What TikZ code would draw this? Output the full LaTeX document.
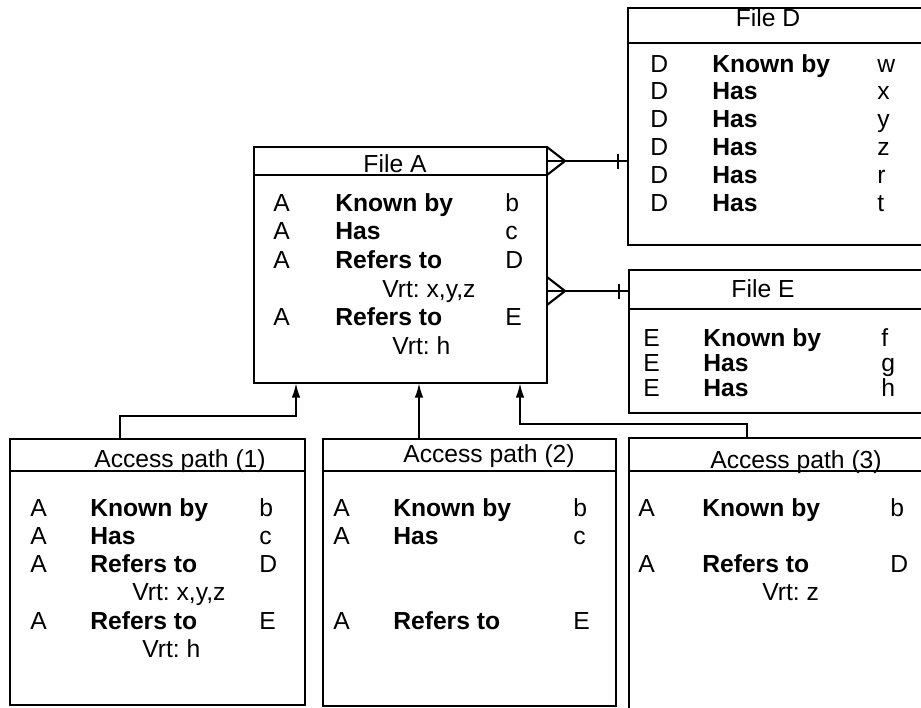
\documentclass[tikz,border=0pt]{standalone}
\usepackage{fontspec}
\setmainfont{Liberation Sans}
\usetikzlibrary{arrows.meta}
\setlength{\tabcolsep}{0pt}
\frenchspacing

\begin{document}
\begin{tikzpicture}[
        x=0.75pt, y=-0.75pt,
        every node/.style={font=\fontsize{18.5}{21.5}\selectfont},
        box/.style={rectangle, draw, line width=1.6pt, anchor=north west, inner sep=0pt, outer sep=0pt},
        title/.style={anchor=base, inner sep=0pt},
        rows/.style={anchor=base west, inner sep=0pt},
        link/.style={line width=1.6pt},
        arrow/.style={line width=1.6pt, -{Latex[length=11pt,width=6.5pt]}},
        crow/.pic={\draw[link] (0,-14) -- (18,0) -- (0,14);},
        bar/.pic={\draw[link] (-10,-7.5) -- (-10,7.5);}
    ]
    \useasboundingbox (0,0) rectangle (921,707);
    \clip (0,0) rectangle (921,707);

    % Files
    \node (fA) [box, minimum width=219.75pt, minimum height=177pt] at (254,147) {};
    \node (fD) [box, minimum width=234pt, minimum height=177.75pt] at (628,8) {};
    \node (fE) [box, minimum width=234pt, minimum height=107.25pt] at (629,270) {};

    % Access paths
    \node (ap1) [box, minimum width=221.25pt, minimum height=199.5pt] at (10,439) {};
    \node (ap2) [box, minimum width=219.75pt, minimum height=200.25pt] at (323,439) {};
    \node (ap3) [box, minimum width=234pt, minimum height=210pt] at (629,438) {};

    % Title bands
    \foreach \b/\h in {fA/21pt, fD/26.25pt, fE/29.25pt, ap1/24pt, ap2/24pt, ap3/24.75pt}
        \draw[link] ([yshift=-\h]\b.north west) -- ([yshift=-\h]\b.north east);

    \node (fAt) [title] at (395,172) {File A};
    \node (fDt) [title] at (768,26) {File D};
    \node (fEt) [title] at (763,297) {File E};
    \node (ap1t) [title] at (180,467) {Access path (1)};
    \node (ap2t) [title] at (489,462) {Access path (2)};
    \node (ap3t) [title] at (796,468) {Access path (3)};

    % Rows
    \node (fAb) [rows] at (273,211) {\begin{tabular}[t]{@{}p{46.5pt}p{127.5pt}l@{}}
        A & \textbf{Known by} & b\\
        A & \textbf{Has} & c\\
        A & \textbf{Refers to} & D\\
        \multicolumn{3}{@{}l@{}}{\hspace*{81.75pt}Vrt: x,y,z}\\
        A & \textbf{Refers to} & E\\
        \multicolumn{3}{@{}l@{}}{\hspace*{89.25pt}Vrt: h}
    \end{tabular}};

    \node (fDb) [rows, font=\fontsize{18.5}{20.85}\selectfont] at (650,72) {\begin{tabular}[t]{@{}p{46.5pt}p{123.75pt}l@{}}
        D & \textbf{Known by} & w\\
        D & \textbf{Has} & x\\
        D & \textbf{Has} & y\\
        D & \textbf{Has} & z\\
        D & \textbf{Has} & r\\
        D & \textbf{Has} & t
    \end{tabular}};

    \node (fEb) [rows, font=\fontsize{18.5}{19.1}\selectfont] at (643,346) {\begin{tabular}[t]{@{}p{45pt}p{133.5pt}l@{}}
        E & \textbf{Known by} & f\\
        E & \textbf{Has} & g\\
        E & \textbf{Has} & h
    \end{tabular}};

    \node (ap1b) [rows, font=\fontsize{18.5}{21.2}\selectfont] at (30,516) {\begin{tabular}[t]{@{}p{45pt}p{126.75pt}l@{}}
        A & \textbf{Known by} & b\\
        A & \textbf{Has} & c\\
        A & \textbf{Refers to} & D\\
        \multicolumn{3}{@{}l@{}}{\hspace*{76.5pt}Vrt: x,y,z}\\
        A & \textbf{Refers to} & E\\
        \multicolumn{3}{@{}l@{}}{\hspace*{84pt}Vrt: h}
    \end{tabular}};

    \node (ap2b) [rows, font=\fontsize{18.5}{21.2}\selectfont] at (333,516) {\begin{tabular}[t]{@{}p{45pt}p{135pt}l@{}}
        A & \textbf{Known by} & b\\
        A & \textbf{Has} & c\\
        & & \\
        & & \\
        A & \textbf{Refers to} & E
    \end{tabular}};

    \node (ap3b) [rows, font=\fontsize{18.5}{21.2}\selectfont] at (638,516) {\begin{tabular}[t]{@{}p{48pt}p{141pt}l@{}}
        A & \textbf{Known by} & b\\
        & & \\
        A & \textbf{Refers to} & D\\
        \multicolumn{3}{@{}l@{}}{\hspace*{93pt}Vrt: z}
    \end{tabular}};

    % Links
    \coordinate (aD) at ([yshift=-10.5pt]fA.north east);
    \coordinate (dA) at (aD -| fD.west);
    \draw[link] (aD) -- (dA);
    \pic at (aD) {crow};
    \pic at (dA) {bar};

    \coordinate (eA) at ([yshift=-15.75pt]fE.north west);
    \coordinate (aE) at (eA -| fA.east);
    \draw[link] (aE) -- (eA);
    \pic at (aE) {crow};
    \pic at (eA) {bar};

    % Arrows
    \draw[arrow] ([xshift=82.5pt]ap1.north west) -- ++(0,-23) -| ([xshift=31.5pt]fA.south west);
    \coordinate (c2) at ([xshift=72pt]ap2.north west);
    \draw[arrow] (c2) -- (c2 |- fA.south);
    \draw[arrow] ([xshift=88.5pt]ap3.north west) -- ++(0,-14) -| ([xshift=199.5pt]fA.south west);

\end{tikzpicture}
\end{document}
